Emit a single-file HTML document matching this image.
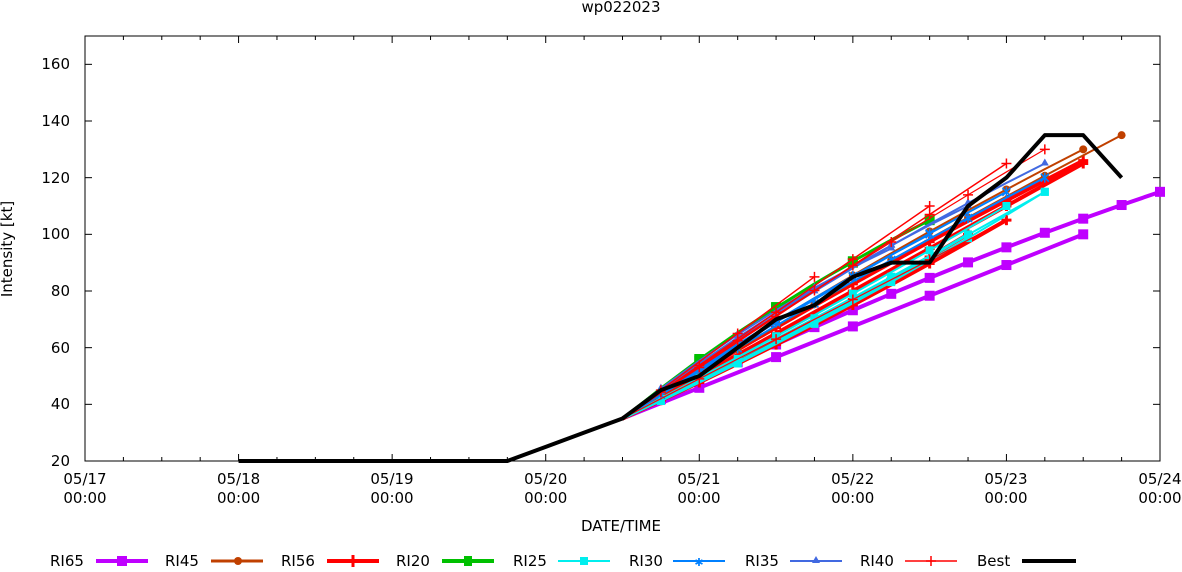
<!DOCTYPE html>
<html><head><meta charset="utf-8"><style>
body{margin:0;background:#fff;}
svg text{font-family:"DejaVu Sans","Liberation Sans",sans-serif;font-size:15px;fill:#000;}
</style></head><body>
<svg id="s" width="1182" height="567" xmlns="http://www.w3.org/2000/svg">
<rect x="0" y="0" width="1182" height="567" fill="#fff"/>
<text x="621" y="12" text-anchor="middle">wp022023</text>
<g id="ax" stroke="#000" stroke-width="1" fill="none">
<rect x="85" y="36" width="1075" height="425"/>
</g>
<g text-anchor="end">
<text x="70" y="466">20</text><text x="70" y="409">40</text><text x="70" y="353">60</text>
<text x="70" y="296">80</text><text x="70" y="239">100</text><text x="70" y="183">120</text>
<text x="70" y="126">140</text><text x="70" y="69">160</text>
</g>
<g text-anchor="middle">
<text x="85" y="484">05/17</text><text x="85" y="503">00:00</text>
<text x="238.6" y="484">05/18</text><text x="238.6" y="503">00:00</text>
<text x="392" y="484">05/19</text><text x="392" y="503">00:00</text>
<text x="545.7" y="484">05/20</text><text x="545.7" y="503">00:00</text>
<text x="699" y="484">05/21</text><text x="699" y="503">00:00</text>
<text x="852.7" y="484">05/22</text><text x="852.7" y="503">00:00</text>
<text x="1006" y="484">05/23</text><text x="1006" y="503">00:00</text>
<text x="1160" y="484">05/24</text><text x="1160" y="503">00:00</text>
<text x="621" y="531">DATE/TIME</text>
</g>
<text transform="translate(12,249) rotate(-90)" text-anchor="middle">Intensity [kt]</text>
<g id="plot"></g>
<g>
<text x="50" y="566">RI65</text><line x1="96" y1="561" x2="148" y2="561" stroke="#bf00ff" stroke-width="4"/><rect x="117" y="556" width="10" height="10" fill="#bf00ff"/>
<text x="165" y="566">RI45</text><line x1="211" y1="561" x2="263" y2="561" stroke="#c04000" stroke-width="3"/><circle cx="238" cy="561" r="4" fill="#c04000"/>
<text x="281" y="566">RI56</text><line x1="327" y1="561" x2="379" y2="561" stroke="#f00" stroke-width="4"/><path d="M353 555V567" stroke="#f00" stroke-width="3"/>
<text x="396" y="566">RI20</text><line x1="442" y1="561" x2="494" y2="561" stroke="#00c000" stroke-width="4"/><rect x="464" y="556" width="8" height="10" fill="#00c000"/>
<text x="513" y="566">RI25</text><line x1="558" y1="561" x2="610" y2="561" stroke="#00eeee" stroke-width="2"/><rect x="580" y="557" width="8" height="8" fill="#00eeee"/>
<text x="629" y="566">RI30</text><line x1="673" y1="561" x2="725" y2="561" stroke="#0080ff" stroke-width="2"/><text x="699" y="566" text-anchor="middle" style="font-size:11px;fill:#0080ff">✱</text>
<text x="745" y="566">RI35</text><line x1="790" y1="561" x2="842" y2="561" stroke="#4169e1" stroke-width="2"/><path d="M816 556l4 7h-8z" fill="#4169e1"/>
<text x="860" y="566">RI40</text><line x1="905" y1="561" x2="957" y2="561" stroke="#f00" stroke-width="1.5"/><path d="M931 556V566M926 561h10" stroke="#f00" stroke-width="1.5"/>
<text x="977" y="566">Best</text><line x1="1022" y1="561" x2="1076" y2="561" stroke="#000" stroke-width="4"/>
</g>
</svg>
<script>
var NS="http://www.w3.org/2000/svg",P=document.getElementById("plot"),A=document.getElementById("ax");
function X(h){return 85+h*1075/168;}
function Y(v){return 461-(v-20)*425/150;}
function el(t,a,p){var e=document.createElementNS(NS,t);for(var k in a)e.setAttribute(k,a[k]);(p||P).appendChild(e);return e;}
for(var v=20;v<=160;v+=20){el("line",{x1:85,y1:Y(v),x2:92,y2:Y(v),stroke:"#000"},A);el("line",{x1:1153,y1:Y(v),x2:1160,y2:Y(v),stroke:"#000"},A);}
for(var d=0;d<=7;d++){el("line",{x1:X(d*24),y1:461,x2:X(d*24),y2:454,stroke:"#000"},A);el("line",{x1:X(d*24),y1:36,x2:X(d*24),y2:43,stroke:"#000"},A);}
for(var h=6;h<168;h+=6){if(h%24){el("line",{x1:X(h),y1:461,x2:X(h),y2:457,stroke:"#000"},A);el("line",{x1:X(h),y1:36,x2:X(h),y2:40,stroke:"#000"},A);}}
var T0=84;
function S(h0,v0,h1,v1,c,color,w,mk,every){every=every||1;var n=Math.round((h1-h0)/6),pts=[];
 for(var i=0;i<=n;i++){var t=i/n;pts.push([X(h0+6*i),Y(v0+(v1-v0)*t+c*4*t*(1-t))]);}
 el("polyline",{points:pts.map(function(p){return p.join(",");}).join(" "),fill:"none",stroke:color,"stroke-width":w,"stroke-linejoin":"round"});
 pts.forEach(function(p,i){if(i==0||(n-i)%every)return;var x=p[0],y=p[1];
  if(mk=="sq")el("rect",{x:x-5,y:y-5,width:10,height:10,fill:color});
  else if(mk=="ci")el("circle",{cx:x,cy:y,r:4,fill:color});
  else if(mk=="pl")el("path",{d:"M"+x+" "+(y-5)+"V"+(y+5)+"M"+(x-5)+" "+y+"H"+(x+5),stroke:color,"stroke-width":w>2?3:1.5});
  else if(mk=="sc")el("rect",{x:x-4,y:y-4,width:8,height:8,fill:color});
  else if(mk=="tr")el("path",{d:"M"+x+" "+(y-5)+"l4 7h-8z",fill:color});
  else if(mk=="st")el("path",{d:"M"+(x-4)+" "+(y-4)+"L"+(x+4)+" "+(y+4)+"M"+(x+4)+" "+(y-4)+"L"+(x-4)+" "+(y+4)+"M"+x+" "+(y-5)+"V"+(y+5),stroke:color,"stroke-width":1.5});
 });}
// purple
S(T0,35,168,115,4,"#bf00ff",4,"sq",1);
S(T0,35,156,100,0,"#bf00ff",4,"sq",2);
// red thick
S(T0,35,156,126,2,"#f00",4,"pl",2);
S(T0,35,156,125,0,"#f00",4,"pl",2);
S(T0,35,144,105,-2,"#f00",4,"pl",2);
S(T0,35,132,92,-1,"#f00",4,"pl",2);
S(T0,35,138,100,-2,"#f00",4,"pl",2);
// brown
S(T0,35,162,135,2,"#c04000",2,"ci",2);
S(T0,35,156,130,3,"#c04000",2,"ci",2);
// green
S(T0,35,132,105,4,"#00c000",3,"sq",2);
S(T0,35,120,90,3,"#00c000",2,"sq",2);
// cyan
S(T0,35,150,115,-1,"#00eeee",2,"sc",2);
S(T0,35,138,100,-2,"#00eeee",3,"sc",2);
S(T0,35,144,110,-1,"#00eeee",2,"sc",2);
S(T0,35,126,85,-2,"#00eeee",2,"sc",2);
S(T0,35,150,115,-3,"#00eeee",2,"sc",2);
// blue
S(T0,35,150,120,2,"#0080ff",2,"st",2);
S(T0,35,144,115,2,"#0080ff",2,"st",2);
S(T0,35,132,100,2,"#0080ff",2,"st",2);
// royal blue
S(T0,35,150,125,4,"#4169e1",2,"tr",2);
S(T0,35,138,110,4,"#4169e1",2,"tr",2);
S(T0,35,126,95,4,"#4169e1",2,"tr",2);
// red thin
S(T0,35,114,85,0,"#f00",1.5,"pl",2);
S(T0,35,132,110,0,"#f00",1.5,"pl",2);
S(T0,35,144,125,0,"#f00",1.5,"pl",2);
S(T0,35,150,130,2,"#f00",1.2,"pl",2);
S(T0,35,144,105,0,"#f00",1.2,"pl",2);
var bt=[[24,20],[66,20],[72,25],[78,30],[84,35],[90,45],[96,50],[102,60],[108,70],[114,75],[120,85],[126,90],[132,90],[138,110],[144,120],[150,135],[156,135],[162,120]];
el("polyline",{points:bt.map(function(p){return X(p[0])+","+Y(p[1]);}).join(" "),fill:"none",stroke:"#000","stroke-width":4,"stroke-linejoin":"round"});
</script>
</body></html>
